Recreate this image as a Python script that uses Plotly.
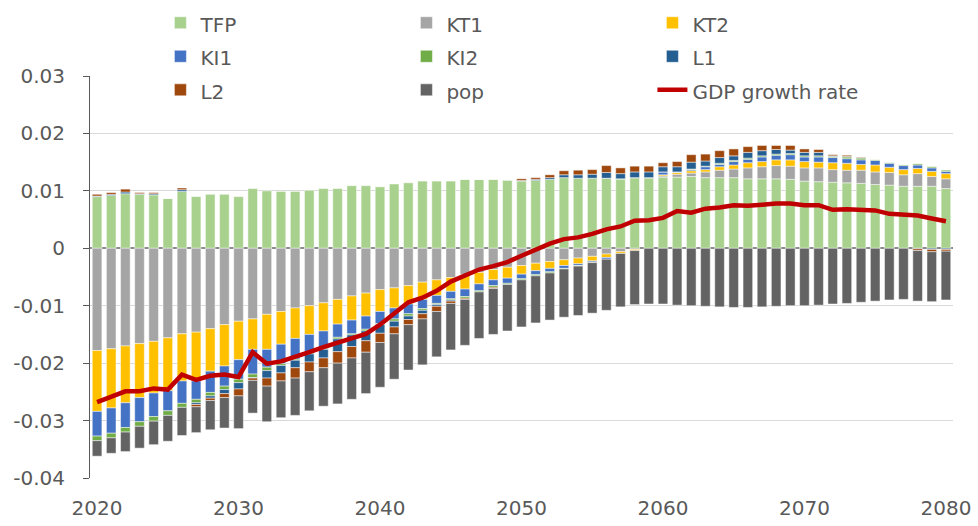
import plotly.graph_objects as go

years = list(range(2020, 2081))

TFP = [0.0090, 0.0092, 0.0095, 0.0094, 0.0093, 0.0087, 0.0099, 0.0090, 0.0094, 0.0094,
       0.0090, 0.0104, 0.0100, 0.0099, 0.0099, 0.0101, 0.0104, 0.0104, 0.0109, 0.0109,
       0.0107, 0.0112, 0.0114, 0.0117, 0.0117, 0.0117, 0.0120, 0.0120, 0.0120, 0.0119,
       0.0117, 0.0118, 0.0120, 0.0123, 0.0122, 0.0122, 0.0122, 0.0121, 0.0123, 0.0123,
       0.0124, 0.0124, 0.0125, 0.0123, 0.0123, 0.0123, 0.0121, 0.0121, 0.0121, 0.0120,
       0.0117, 0.0116, 0.0115, 0.0114, 0.0113, 0.0111, 0.0110, 0.0108, 0.0108, 0.0108,
       0.0104]

KT1 = [-0.0178, -0.0175, -0.0170, -0.0166, -0.0162, -0.0156, -0.0149, -0.0146, -0.0140, -0.0133,
       -0.0127, -0.0123, -0.0115, -0.0110, -0.0104, -0.0100, -0.0095, -0.0089, -0.0083, -0.0078,
       -0.0072, -0.0069, -0.0065, -0.0059, -0.0055, -0.0051, -0.0046, -0.0042, -0.0037, -0.0033,
       -0.0030, -0.0026, -0.0023, -0.0020, -0.0017, -0.0014, -0.0010, -0.0006, -0.0002, 0.0,
       0.0002, 0.0005, 0.0006, 0.0010, 0.0013, 0.0015, 0.0019, 0.0021, 0.0023, 0.0023,
       0.0023, 0.0024, 0.0022, 0.0022, 0.0023, 0.0022, 0.0022, 0.0020, 0.0022, 0.0017,
       0.0017]

KT2 = [-0.0106, -0.0103, -0.0099, -0.0094, -0.0090, -0.0092, -0.0082, -0.0085, -0.0074, -0.0072,
       -0.0067, -0.0053, -0.0061, -0.0057, -0.0053, -0.0050, -0.0049, -0.0043, -0.0042, -0.0040,
       -0.0038, -0.0035, -0.0032, -0.0030, -0.0027, -0.0024, -0.0025, -0.0020, -0.0018, -0.0019,
       -0.0015, -0.0013, -0.0012, -0.0010, -0.0010, -0.0008, -0.0006, -0.0003, -0.0002, 0.0,
       0.0002, 0.0003, 0.0004, 0.0004, 0.0006, 0.0007, 0.0009, 0.0009, 0.0010, 0.0011,
       0.0011, 0.0010, 0.0012, 0.0012, 0.0010, 0.0012, 0.0009, 0.0009, 0.0009, 0.0009,
       0.0009]

KI1 = [-0.0043, -0.0044, -0.0043, -0.0042, -0.0041, -0.0035, -0.0039, -0.0032, -0.0037, -0.0035,
       -0.0034, -0.0043, -0.0031, -0.0034, -0.0036, -0.0031, -0.0030, -0.0023, -0.0024, -0.0023,
       -0.0021, -0.0019, -0.0017, -0.0016, -0.0014, -0.0013, -0.0013, -0.0012, -0.0010, -0.0009,
       -0.0008, -0.0007, -0.0006, -0.0005, -0.0003, -0.0002, -0.0003, 0.0, 0.0, 0.0,
       0.0005, 0.0001, 0.0002, 0.0005, 0.0004, 0.0006, 0.0006, 0.0008, 0.0008, 0.0009,
       0.0008, 0.0009, 0.0009, 0.0008, 0.0008, 0.0008, 0.0007, 0.0007, 0.0006, 0.0006,
       0.0004]

KI2 = [-0.0008, -0.0008, -0.0008, -0.0008, -0.0008, -0.0008, -0.0007, -0.0006, -0.0006, -0.0006,
       -0.0006, -0.0006, -0.0006, -0.0003, -0.0002, -0.0003, -0.0002, -0.0003, -0.0002, -0.0003,
       -0.0002, -0.0004, -0.0004, -0.0003, -0.0002, -0.0002, -0.0003, -0.0002, -0.0003, -0.0002,
       -0.0002, -0.0002, -0.0002, -0.0001, -0.0001, -0.0001, 0.0, 0.0, 0.0, 0.0,
       0.0, 0.0, 0.0001, 0.0001, 0.0002, 0.0002, 0.0002, 0.0002, 0.0002, 0.0002,
       0.0002, 0.0002, 0.0002, 0.0003, 0.0003, 0.0002, 0.0002, 0.0002, 0.0002, 0.0002,
       0.0002]

L1 = [0.0001, 0.0002, 0.0003, 0.0001, 0.0002, 0.0, 0.0003, -0.0003, -0.0004, -0.0007,
      -0.0011, -0.0001, -0.0013, -0.0013, -0.0013, -0.0014, -0.0015, -0.0022, -0.0020, -0.0017,
      -0.0015, -0.0010, -0.0006, -0.0006, -0.0003, -0.0002, 0.0, 0.0, 0.0, 0.0,
      0.0001, 0.0002, 0.0003, 0.0005, 0.0006, 0.0007, 0.0010, 0.0009, 0.0010, 0.0010,
      0.0009, 0.0009, 0.0012, 0.0009, 0.0010, 0.0008, 0.0010, 0.0009, 0.0008, 0.0006,
      0.0006, 0.0006, 0.0001, 0.0001, 0.0001, 0.0, 0.0, 0.0, -0.0001, -0.0002,
      -0.0002]

L2 = [0.0003, 0.0003, 0.0005, 0.0002, 0.0002, 0.0, 0.0003, -0.0004, -0.0004, -0.0007,
      -0.0012, -0.0004, -0.0014, -0.0014, -0.0018, -0.0017, -0.0017, -0.0020, -0.0020, -0.0020,
      -0.0016, -0.0012, -0.0009, -0.0009, -0.0009, -0.0004, -0.0002, 0.0, -0.0002, 0.0,
      0.0003, 0.0003, 0.0005, 0.0007, 0.0008, 0.0008, 0.0012, 0.0010, 0.0010, 0.0010,
      0.0007, 0.0009, 0.0013, 0.0012, 0.0012, 0.0012, 0.0010, 0.0009, 0.0007, 0.0008,
      0.0006, 0.0005, 0.0002, 0.0002, 0.0001, 0.0, 0.0, 0.0, -0.0003, -0.0004,
      -0.0003]

pop = [-0.0027, -0.0027, -0.0034, -0.0038, -0.0041, -0.0045, -0.0049, -0.0045, -0.0051, -0.0053,
       -0.0057, -0.0057, -0.0062, -0.0064, -0.0065, -0.0068, -0.0067, -0.0071, -0.0072, -0.0072,
       -0.0078, -0.0079, -0.0079, -0.0080, -0.0079, -0.0081, -0.0080, -0.0081, -0.0080, -0.0081,
       -0.0082, -0.0082, -0.0082, -0.0084, -0.0086, -0.0088, -0.0089, -0.0093, -0.0094, -0.0097,
       -0.0097, -0.0099, -0.0100, -0.0101, -0.0102, -0.0103, -0.0103, -0.0102, -0.0101, -0.0100,
       -0.0100, -0.0099, -0.0097, -0.0096, -0.0094, -0.0092, -0.0090, -0.0089, -0.0088, -0.0087,
       -0.0085]

GDP = [-0.0268, -0.0259, -0.0249, -0.0249, -0.0244, -0.0246, -0.0220, -0.0229, -0.0222, -0.0220,
       -0.0224, -0.0181, -0.0201, -0.0197, -0.0190, -0.0181, -0.0172, -0.0165, -0.0158, -0.0149,
       -0.0133, -0.0114, -0.0094, -0.0086, -0.0074, -0.0058, -0.0048, -0.0037, -0.0031, -0.0024,
       -0.0013, -0.0002, 0.0008, 0.0016, 0.0019, 0.0025, 0.0033, 0.0038, 0.0048, 0.0049,
       0.0053, 0.0065, 0.0062, 0.0069, 0.0071, 0.0075, 0.0074, 0.0076, 0.0078, 0.0078,
       0.0075, 0.0075, 0.0067, 0.0068, 0.0067, 0.0066, 0.0060, 0.0059, 0.0057, 0.0052,
       0.0047]

x_tick_vals = [2020, 2030, 2040, 2050, 2060, 2070, 2080]
x_tick_text = ["2020", "2030", "2040", "2050", "2060", "2070", "2080"]
y_tick_vals = [0.03, 0.02, 0.01, 0, -0.01, -0.02, -0.03, -0.04]
y_tick_text = ["0.03", "0.02", "0.01", "0", "-0.01", "-0.02", "-0.03", "-0.04"]

y_min, y_max = -0.04, 0.03
x_range = [years[0] - 0.5, years[-1] + 0.5]

series = [
    ("TFP", TFP, "#A9D18E"),
    ("KT1", KT1, "#A5A5A5"),
    ("KT2", KT2, "#FFC000"),
    ("KI1", KI1, "#4472C4"),
    ("KI2", KI2, "#70AD47"),
    ("L1", L1, "#255E91"),
    ("L2", L2, "#9E480E"),
    ("pop", pop, "#636363"),
]

def label(s):
    return '<span style="font-size:20px">' + s + '</span>'

fig = go.Figure()
for name, vals, col in series:
    fig.add_trace(go.Bar(
        x=years, y=vals, name=label(name),
        marker=dict(color=col, line=dict(color="rgba(255,255,255,0.8)", width=0.6)),
    ))

fig.add_trace(go.Scatter(
    x=years, y=GDP, name=label("GDP growth rate"), mode="lines",
    line=dict(color="#C00000", width=4.5),
))

W, H = 978, 526
mt, mb, ml, mr = 5, 48, 90, 25
plot_top_px = 76
paper_h = H - mt - mb
y_dom_top = (H - mb - plot_top_px) / paper_h
zero_pos = y_dom_top * (0 - y_min) / (y_max - y_min)

txt = "#595959"
fig.update_layout(
    width=W, height=H,
    margin=dict(l=ml, r=mr, t=mt, b=mb, autoexpand=False),
    barmode="relative",
    bargap=0.32,
    plot_bgcolor="white",
    paper_bgcolor="white",
    font=dict(family="DejaVu Sans", size=20, color=txt),
    showlegend=True,
    legend=dict(
        orientation="h",
        x=0.0816, xanchor="left",
        y=1.0085, yanchor="top",
        entrywidth=201, entrywidthmode="pixels",
        traceorder="normal",
        font=dict(family="DejaVu Sans", size=23.5, color=txt),
        bgcolor="rgba(0,0,0,0)",
        itemclick=False,
    ),
    xaxis=dict(
        range=x_range,
        tickmode="array", tickvals=x_tick_vals, ticktext=x_tick_text,
        showgrid=False, showline=False, zeroline=False,
        ticks="", ticklabelstandoff=16, automargin=False,
        tickfont=dict(size=20, color=txt),
    ),
    xaxis2=dict(
        range=x_range, overlaying="x", anchor="free", position=zero_pos,
        side="bottom",
        tickmode="array", tickvals=[v - 0.5 for v in x_tick_vals[1:]],
        showticklabels=False, showgrid=False, showline=False, zeroline=False,
        ticks="outside", ticklen=8, tickwidth=1.5, tickcolor="#8C8C8C",
        automargin=False,
    ),
    yaxis=dict(
        domain=[0, y_dom_top],
        range=[y_min, y_max],
        tickmode="array", tickvals=y_tick_vals, ticktext=y_tick_text,
        showgrid=True, gridcolor="#D9D9D9", gridwidth=1,
        zeroline=True, zerolinecolor="#8C8C8C", zerolinewidth=2,
        showline=True, linecolor="#595959", linewidth=1,
        ticks="outside", ticklen=6, tickcolor="#595959",
        ticklabelstandoff=14, automargin=False,
        tickfont=dict(size=20, color=txt),
    ),
)

fig.write_html(
    "out.html",
    config={"displayModeBar": False},
    post_script="document.body.style.margin='0';document.body.style.overflow='hidden';",
)
